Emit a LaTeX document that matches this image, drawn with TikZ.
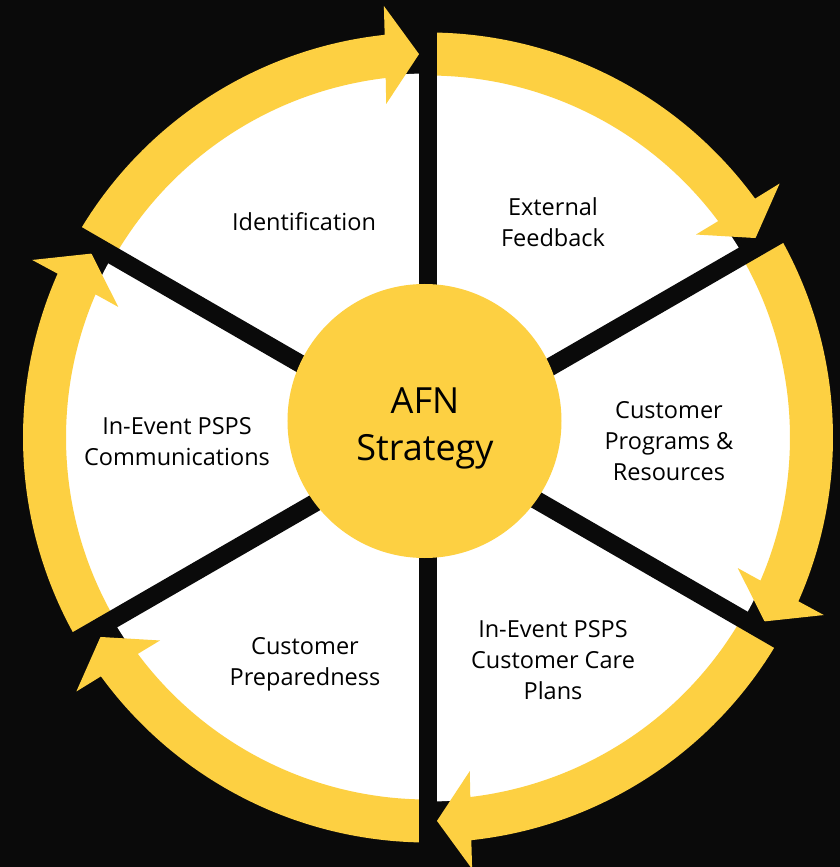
\documentclass[tikz,border=0pt]{standalone}
\usepackage{fontspec}
\setmainfont{Open Sans}
\definecolor{ylw}{HTML}{FDD042}
\definecolor{bg}{HTML}{0A0A0A}
\begin{document}
\begin{tikzpicture}[x=1pt,y=1pt,
  lbl/.style={align=center, font=\fontsize{23.5}{31}\selectfont, text=black, inner sep=0pt},
  hublbl/.style={align=center, font=\fontsize{36}{47}\selectfont, text=black, inner sep=0pt},
  divider/.style={line width=18pt, draw=bg},
  ringarrow/.style={fill=ylw}
  ]
\useasboundingbox (-428,-429.5) rectangle (412,437.5);
\fill[bg] (-428,-429.5) rectangle (412,437.5);
\fill[white] (0,0) circle[radius=364];
\newcommand{\cycarrow}[1]{%
  \pgfmathsetmacro{\cyAs}{#1+60}%
  \pgfmathsetmacro{\cyAt}{#1+1.34}%
  \pgfmathsetmacro{\cyAo}{\cyAt+4.8}%
  \pgfmathsetmacro{\cyAbo}{\cyAt+4.5}%
  \pgfmathsetmacro{\cyAbi}{\cyAt+5.8}%
  \pgfmathsetmacro{\cyAi}{\cyAt+5.37}%
  \fill[ringarrow] (\cyAs:405pt) arc[start angle=\cyAs, end angle=\cyAo, radius=405pt]
    -- (\cyAbo:433.8pt) -- (\cyAt:383.5pt) -- (\cyAbi:336.2pt) -- (\cyAi:362pt)
    arc[start angle=\cyAi, end angle=\cyAs, radius=362pt] -- cycle;}
\foreach \d in {90,30,-30,-90,-150,150} {\cycarrow{\d}}
\coordinate (c) at (0,0);
\foreach \a/\n in {90/d1,30/d2,-30/d3,-90/d4,-150/d5,150/d6} {
  \coordinate (\n) at (\a:432pt);
  \draw[divider] (c) -- (\n);
}
\node[circle, fill=ylw, minimum size=274pt, inner sep=0pt] (hub) at (-3.5,16.5) {};
\node[hublbl] (hubtext) at (-3,9) {AFN\\Strategy};
\node[lbl] (l1) at (-124,215.5) {Identification};
\node[lbl] (l2) at (125,215.5) {External\\Feedback};
\node[lbl] (l3) at (241,-3.5) {Customer\\Programs \&\\Resources};
\node[lbl] (l4) at (125,-222.5) {In-Event PSPS\\Customer Care\\Plans};
\node[lbl] (l5) at (-123,-227) {Customer\\Preparedness};
\node[lbl] (l6) at (-251,-4) {In-Event PSPS\\Communications};
\end{tikzpicture}
\end{document}
